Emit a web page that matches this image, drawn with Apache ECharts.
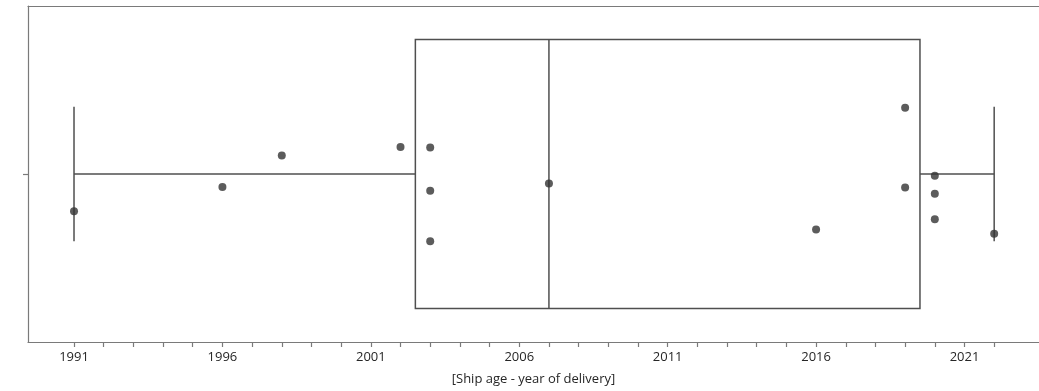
<!DOCTYPE html>
<html>
<head>
<meta charset="utf-8">
<script src="https://cdn.jsdelivr.net/npm/echarts@6/dist/echarts.min.js"></script>
<style>
html,body{margin:0;padding:0;background:#fff;}
#chart{width:1039px;height:391px;}
</style>
</head>
<body>
<div id="chart"></div>
<script>
// Delivery year of each ship (one point per ship)
var years = [1991, 1996, 1998, 2002, 2003, 2003, 2003, 2007, 2016, 2019, 2019, 2020, 2020, 2020, 2022];
// Vertical jitter of each point (fraction of the band, up = positive)
var jitter = [-0.111, -0.039, 0.055, 0.080, 0.079, -0.050, -0.200, -0.028, -0.165, 0.197, -0.040, -0.005, -0.059, -0.135, -0.178];
// Tick values and labelled ticks on the x axis
var tickYears = [1991, 1992, 1993, 1994, 1995, 1996, 1997, 1998, 1999, 2000, 2001, 2002, 2003, 2004, 2005, 2006, 2007, 2008, 2009, 2010, 2011, 2012, 2013, 2014, 2015, 2016, 2017, 2018, 2019, 2020, 2021, 2022];
var labelYears = [1991, 1996, 2001, 2006, 2011, 2016, 2021];
var axisTitle = '[Ship age - year of delivery]';

function quantile(sorted, p) {
  var pos = (sorted.length - 1) * p;
  var lo = Math.floor(pos), hi = Math.ceil(pos);
  return sorted[lo] + (sorted[hi] - sorted[lo]) * (pos - lo);
}
var sorted = years.slice().sort(function (a, b) { return a - b; });
var q1 = quantile(sorted, 0.25), med = quantile(sorted, 0.5), q3 = quantile(sorted, 0.75);
var iqr = q3 - q1;
var lowW = sorted.filter(function (v) { return v >= q1 - 1.5 * iqr; })[0];
var highArr = sorted.filter(function (v) { return v <= q3 + 1.5 * iqr; });
var highW = highArr[highArr.length - 1];
var boxStats = [lowW, q1, med, q3, highW];

var points = years.map(function (y, i) { return [y, jitter[i]]; });

var chart = echarts.init(document.getElementById('chart'), null, {renderer: 'canvas'});
var lineColor = '#4f4f4f';
var spineColor = '#7a7a7a';
var textStyle = {fontFamily: 'Open Sans', fontSize: 13, color: '#262626'};

chart.setOption({
  animation: false,
  backgroundColor: '#fff',
  grid: {left: 28, top: 6, right: 0, bottom: 49, show: false},
  xAxis: [{
    type: 'value',
    position: 'bottom',
    min: 1989.45,
    max: 2023.51,
    name: axisTitle,
    nameLocation: 'middle',
    nameGap: 31,
    nameTextStyle: textStyle,
    axisLine: {show: true, onZero: false, lineStyle: {color: spineColor, width: 1.2}},
    axisTick: {show: true, customValues: tickYears, length: 5, lineStyle: {color: spineColor, width: 1.2}},
    axisLabel: {show: true, customValues: labelYears, margin: 9, fontFamily: 'Open Sans', fontSize: 13, color: '#262626',
      formatter: function (v) { return String(Math.round(v)); }},
    splitLine: {show: false}
  }, {
    type: 'value',
    position: 'top',
    min: 1989.45,
    max: 2023.51,
    axisLine: {show: true, onZero: false, lineStyle: {color: spineColor, width: 1.2}},
    axisTick: {show: false},
    axisLabel: {show: false},
    splitLine: {show: false}
  }],
  yAxis: {
    type: 'value',
    min: -0.5,
    max: 0.5,
    axisLine: {show: true, onZero: false, lineStyle: {color: spineColor, width: 1.2}},
    axisTick: {show: true, customValues: [0], length: 5, lineStyle: {color: spineColor, width: 1.2}},
    axisLabel: {show: false, customValues: [0]},
    splitLine: {show: false}
  },
  series: [
    {
      type: 'custom',
      data: [boxStats],
      encode: {x: [0, 1, 2, 3, 4]},
      clip: false,
      z: 1,
      renderItem: function (params, api) {
        var mn = api.value(0), a = api.value(1), m = api.value(2), b = api.value(3), mx = api.value(4);
        var halfBox = 0.4, halfCap = 0.2;
        var style = {stroke: lineColor, lineWidth: 1.5, fill: null};
        function line(p1, p2) {
          return {type: 'line', shape: {x1: p1[0], y1: p1[1], x2: p2[0], y2: p2[1]}, style: style};
        }
        var tl = api.coord([a, halfBox]), br = api.coord([b, -halfBox]);
        return {
          type: 'group',
          children: [
            {type: 'rect', shape: {x: tl[0], y: tl[1], width: br[0] - tl[0], height: br[1] - tl[1]}, style: {stroke: lineColor, lineWidth: 1.5, fill: 'rgba(0,0,0,0)'}},
            line(api.coord([m, halfBox]), api.coord([m, -halfBox])),
            line(api.coord([mn, 0]), api.coord([a, 0])),
            line(api.coord([b, 0]), api.coord([mx, 0])),
            line(api.coord([mn, halfCap]), api.coord([mn, -halfCap])),
            line(api.coord([mx, halfCap]), api.coord([mx, -halfCap]))
          ]
        };
      }
    },
    {
      type: 'scatter',
      data: points,
      symbol: 'circle',
      symbolSize: 8,
      z: 3,
      itemStyle: {color: '#333333', borderWidth: 0}
    }
  ]
});
</script>
</body>
</html>
